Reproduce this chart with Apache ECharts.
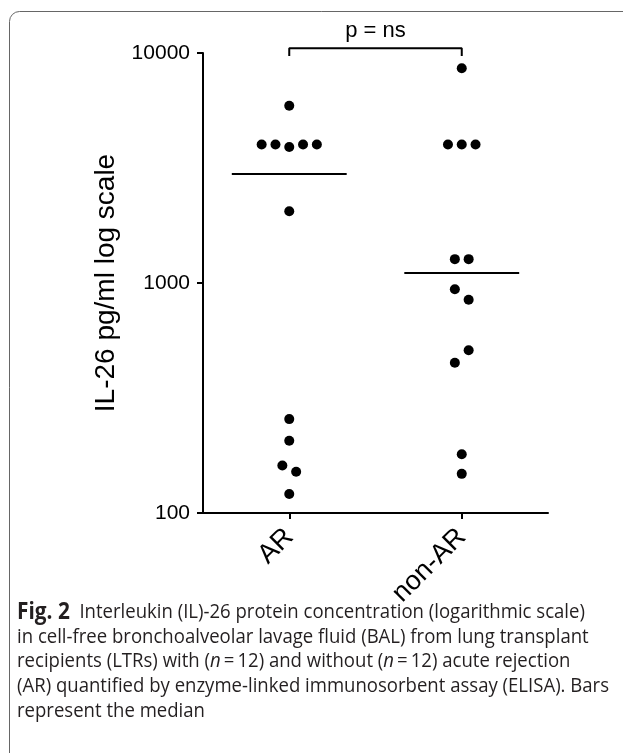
<!DOCTYPE html>
<html>
<head>
<meta charset="utf-8">
<script src="https://cdn.jsdelivr.net/npm/echarts@6/dist/echarts.min.js"></script>
<style>
  html, body { margin: 0; padding: 0; background: #fff; }
  #chart { width: 623px; height: 753px; }
</style>
</head>
<body>
<div id="chart"></div>
<script>
// group names and positions on the x axis
var groups = ["AR", "non-AR"];
// IL-26 values (pg/ml)
var arValues = [5900, 4000, 4000, 3900, 4000, 4000, 2050, 256, 206, 161, 151, 121];
var arJitter = [0, -0.16, -0.08, 0, 0.08, 0.16, 0, 0, 0, -0.04, 0.04, 0];
var nonArValues = [8580, 4000, 4000, 4000, 1270, 1270, 940, 845, 510, 450, 180, 148];
var nonArJitter = [0, -0.08, 0, 0.08, -0.04, 0.04, -0.04, 0.04, 0.04, -0.04, 0, 0];
var medians = [2975, 1105];
var yTicks = [100, 1000, 10000];
var bracketTop = 10480, bracketFoot = 9700;

var captionLines = [
  "{b|Fig. 2}  Interleukin (IL)-26 protein concentration (logarithmic scale)",
  "in cell-free bronchoalveolar lavage fluid (BAL) from lung transplant",
  "recipients (LTRs) with ({i|n}\u2009=\u200912) and without ({i|n}\u2009=\u200912) acute rejection",
  "(AR) quantified by enzyme-linked immunosorbent assay (ELISA). Bars",
  "represent the median"
];

function points(vals, jit, pos) {
  var out = [];
  for (var i = 0; i < vals.length; i++) out.push([pos + jit[i], vals[i]]);
  return out;
}
function medianLine(pos, m) {
  return [[pos - 0.333, m], [pos + 0.333, m]];
}

var chart = echarts.init(document.getElementById("chart"));

var font = "Liberation Sans, Arial, sans-serif";
var capFont = "Open Sans, Noto Sans, sans-serif";
var capSize = 20.5;

var graphics = [{
  type: "rect",
  shape: { x: 9.5, y: 11.5, width: 700, height: 800, r: 10 },
  style: { fill: "none", stroke: "#666", lineWidth: 1 },
  silent: true
}];
for (var i = 0; i < captionLines.length; i++) {
  graphics.push({
    type: "text",
    x: 17, y: 612 + i * 24.8,
    scaleX: 0.905,
    style: {
      text: captionLines[i],
      font: capSize + "px " + capFont,
      fill: "#231f20",
      verticalAlign: "middle",
      rich: {
        b: { fontWeight: "bold", fontFamily: capFont, fontSize: 23, fill: "#231f20" },
        i: { fontStyle: "italic", fontFamily: capFont, fontSize: capSize, fill: "#231f20" }
      }
    }
  });
}

var option = {
  animation: false,
  backgroundColor: "#fff",
  grid: { left: 203, top: 53, right: 75, bottom: 240 },
  xAxis: {
    type: "value",
    min: 0.5, max: 2.5,
    splitLine: { show: false },
    axisLine: { lineStyle: { color: "#000", width: 2 } },
    axisTick: { show: true, length: 6, lineStyle: { color: "#000", width: 2 }, customValues: [1, 2] },
    axisLabel: {
      customValues: [1, 2],
      rotate: 45, margin: 20,
      fontSize: 27, fontFamily: font, color: "#000",
      formatter: function (v) { return groups[Math.round(v) - 1]; }
    }
  },
  yAxis: {
    type: "log", logBase: 10, min: 100, max: 10000,
    name: "IL-26 pg/ml log scale",
    nameLocation: "middle", nameGap: 75,
    nameTextStyle: { fontSize: 28, fontFamily: font, color: "#000" },
    splitLine: { show: false },
    minorTick: { show: false },
    axisLine: { show: true, lineStyle: { color: "#000", width: 2 } },
    axisTick: { show: true, length: 6, lineStyle: { color: "#000", width: 2 } },
    axisLabel: {
      margin: 13, fontSize: 21, fontFamily: font, color: "#000",
      formatter: function (v) { return yTicks.indexOf(Math.round(v)) >= 0 ? String(Math.round(v)) : ""; }
    }
  },
  graphic: graphics,
  series: [
    {
      type: "scatter", name: "AR", symbolSize: 10,
      itemStyle: { color: "#000", opacity: 1 }, data: points(arValues, arJitter, 1)
    },
    {
      type: "scatter", name: "non-AR", symbolSize: 10,
      itemStyle: { color: "#000", opacity: 1 }, data: points(nonArValues, nonArJitter, 2)
    },
    {
      type: "line", symbol: "none", lineStyle: { color: "#000", width: 2 },
      data: medianLine(1, medians[0])
    },
    {
      type: "line", symbol: "none", lineStyle: { color: "#000", width: 2 },
      data: medianLine(2, medians[1])
    },
    {
      type: "line", symbol: "none", clip: false,
      lineStyle: { color: "#000", width: 2 },
      data: [[1, bracketFoot], [1, bracketTop], [2, bracketTop], [2, bracketFoot]]
    }
  ]
};
chart.setOption(option);

// place the p-value label above the bracket
var mid = chart.convertToPixel({ gridIndex: 0 }, [1.5, bracketTop]);
graphics.push({
  type: "text", x: mid[0], y: mid[1] - 6,
  style: { text: "p = ns", font: "22px " + font, fill: "#000", align: "center", verticalAlign: "bottom" }
});
chart.setOption({ graphic: graphics });
</script>
</body>
</html>
